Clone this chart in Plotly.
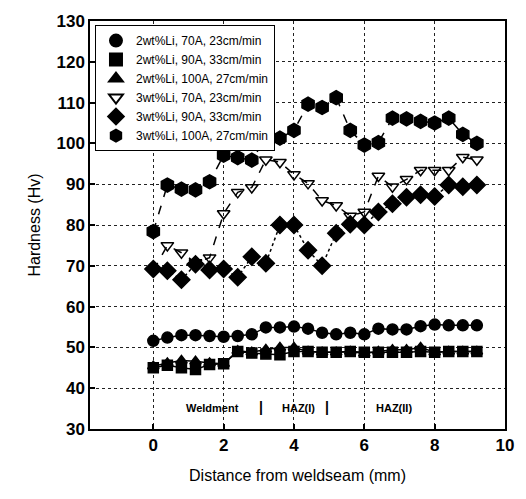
import plotly.graph_objects as go

x = [round(0.4 * i, 1) for i in range(24)]

names = [
    "2wt%Li, 70A, 23cm/min",
    "2wt%Li, 90A, 33cm/min",
    "2wt%Li, 100A, 27cm/min",
    "3wt%Li, 70A, 23cm/min",
    "3wt%Li, 90A, 33cm/min",
    "3wt%Li, 100A, 27cm/min",
]

s2_70 = [51.6, 52.4, 53.0, 53.0, 52.8, 52.6, 52.8, 53.2, 54.9, 54.9, 55.1, 54.6,
         53.6, 53.2, 53.6, 53.2, 54.6, 54.4, 54.4, 55.2, 55.6, 55.4, 55.4, 55.4]
s2_90 = [45.0, 45.6, 45.0, 44.6, 45.8, 46.0, 49.0, 48.6, 48.4, 48.2, 49.0, 49.0,
         48.8, 48.8, 49.0, 48.8, 48.8, 48.8, 48.8, 49.0, 48.8, 49.0, 49.0, 49.0]
s2_100 = [45.4, 46.2, 46.8, 46.6, 46.2, 46.0, 49.2, 48.8, 49.5, 50.0, 50.0, 49.0,
          48.8, 48.8, 49.0, 48.5, 49.0, 49.4, 49.4, 50.0, 48.8, 49.0, 49.0, 49.0]
s3_70 = [68.8, 75.0, 73.2, 70.8, 72.0, 82.8, 88.0, 89.2, 96.0, 95.4, 92.4, 90.2,
         86.0, 84.8, 82.2, 83.2, 92.0, 89.4, 91.2, 93.4, 93.4, 93.4, 96.6, 96.0]
s3_90 = [69.2, 68.8, 66.6, 70.4, 69.0, 69.2, 67.2, 72.2, 70.6, 80.0, 80.0, 73.8,
         70.0, 78.0, 80.2, 80.0, 83.2, 85.2, 86.8, 87.4, 87.0, 89.8, 89.4, 89.8]
s3_100 = [78.4, 89.8, 88.8, 88.6, 90.6, 97.1, 96.5, 95.9, 101.3, 101.3, 103.2, 109.6,
          108.8, 111.2, 103.2, 99.6, 100.2, 106.2, 106.0, 105.4, 105.0, 106.2, 102.2, 100.0]

series = [s2_70, s2_90, s2_100, s3_70, s3_90, s3_100]
symbols = ["circle", "square", "triangle-up", "triangle-down-open", "diamond", "hexagon"]
sizes = [11, 10, 10, 11, 13, 14]
dashes = ["solid", "solid", "solid", "dash", "dot", "dash"]

region_labels = ["Weldment", "|", "HAZ(I)", "|", "HAZ(II)"]
region_x = [1.67, 3.05, 4.13, 4.95, 6.83]
region_y = [35.1, 35.4, 35.1, 35.4, 35.1]

FONT = "Liberation Sans, Arial"

fig = go.Figure()
for name, ys, sym, sz, dsh in zip(names, series, symbols, sizes, dashes):
    fig.add_trace(go.Scatter(
        x=x, y=ys, name=name, mode="lines+markers", showlegend=False,
        line=dict(color="black", width=1.5, dash=dsh),
        marker=dict(symbol=sym, size=sz, color="black",
                    line=dict(color="black", width=1.5)),
    ))
# legend entries (markers only, as in the reference)
for name, sym in zip(names, symbols):
    fig.add_trace(go.Scatter(
        x=[None], y=[None], name=name, mode="markers",
        marker=dict(symbol=sym, size=11, color="black",
                    line=dict(color="black", width=1.5)),
    ))

for t, xx, yy in zip(region_labels, region_x, region_y):
    fig.add_annotation(x=xx, y=yy, text=f"<b>{t}</b>", showarrow=False,
                       font=dict(family=FONT, size=11 if t != "|" else 14, color="black"))

axis_common = dict(
    showline=True, linecolor="black", linewidth=1.5, mirror=True,
    ticks="inside", ticklen=5, tickcolor="black", tickwidth=1.5,
    showgrid=True, gridcolor="#222", gridwidth=1, griddash="dot",
    zeroline=False,
    tickfont=dict(family=FONT, size=17, color="black", weight="bold"),
    title_font=dict(family=FONT, size=16, color="black"),
)

fig.update_layout(
    width=526, height=499,
    margin=dict(l=90, r=18, t=18, b=70),
    paper_bgcolor="white", plot_bgcolor="white",
    xaxis=dict(range=[-1.8, 10], tickvals=[0, 2, 4, 6, 8, 10],
               title=dict(text="Distance from weldseam (mm)", standoff=16), **axis_common),
    yaxis=dict(range=[30, 130], tickvals=list(range(30, 131, 10)),
               title=dict(text="Hardness (Hv)", standoff=12), **axis_common),
    legend=dict(x=0.012, y=0.99, xanchor="left", yanchor="top",
                bgcolor="white", bordercolor="black", borderwidth=1,
                font=dict(family=FONT, size=12, color="black"),
                itemsizing="constant", itemwidth=30, tracegroupgap=0),
    showlegend=True,
)

fig.write_html("out.html")
